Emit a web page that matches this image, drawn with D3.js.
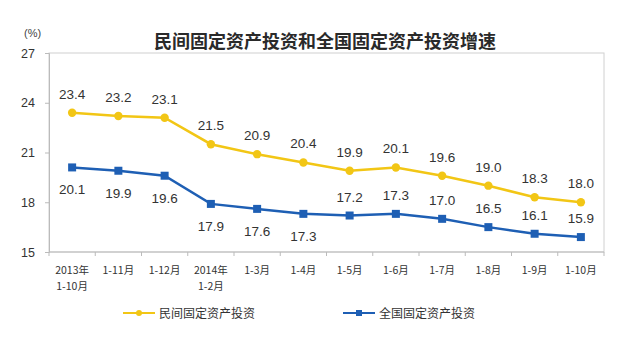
<!DOCTYPE html>
<html><head><meta charset="utf-8">
<script src="https://cdn.jsdelivr.net/npm/d3@7/dist/d3.min.js"></script>
<style>
html,body{margin:0;padding:0;background:#fff;}
svg{display:block;font-family:"Liberation Sans",Arial,"Noto Sans CJK SC",sans-serif;}
</style></head>
<body><svg id="c" width="640" height="357"></svg>
<script>
const categories = ["2013年\n1-10月","1-11月","1-12月","2014年\n1-2月","1-3月","1-4月","1-5月","1-6月","1-7月","1-8月","1-9月","1-10月"];
const privateInv = [23.4,23.2,23.1,21.5,20.9,20.4,19.9,20.1,19.6,19.0,18.3,18.0];
const nationalInv = [20.1,19.9,19.6,17.9,17.6,17.3,17.2,17.3,17.0,16.5,16.1,15.9];
const nationalLabelBelow = [true,true,true,true,true,true,false,false,false,false,false,false];
const yTicks = [15,18,21,24,27];
const seriesNames = ["民间固定资产投资","全国固定资产投资"];
const title = "民间固定资产投资和全国固定资产投资增速";

const svg = d3.select("#c");
const L=49,R=604,T=53,B=252;
const x = d3.scaleBand().domain(d3.range(categories.length)).range([L,R]);
const y = d3.scaleLinear().domain([15,27]).range([B,T]);
const cx = i => x(i)+x.bandwidth()/2;
const yellow="#F2C615", blue="#1E5FB4";
const cjk = '"Noto Sans CJK SC",sans-serif';

svg.append("text").attr("x",325).attr("y",48).attr("text-anchor","middle")
  .style("font-family",cjk).style("font-size","18px").style("font-weight","bold").attr("fill","#2a2a2a").text(title);
svg.append("text").attr("x",24).attr("y",37).style("font-size","11px").attr("fill","#444").text("(%)");

// frame
svg.append("rect").attr("x",L).attr("y",T).attr("width",R-L).attr("height",B-T)
  .attr("fill","none").attr("stroke","#d0d0d0").attr("stroke-width",1);

// y axis
const ya = svg.append("g").attr("transform",`translate(${L},0)`)
  .call(d3.axisLeft(y).tickValues(yTicks).tickSize(4).tickPadding(10).tickFormat(d3.format("d")));
ya.select(".domain").attr("stroke","#bbb");
ya.selectAll(".tick line").attr("stroke","#bbb");
ya.selectAll("text").style("font-size","12.5px").attr("fill","#333").style("font-family",'"Liberation Sans",Arial,sans-serif');

// x axis with boundary ticks
const xa = svg.append("g").attr("transform",`translate(0,${B})`);
xa.append("line").attr("x1",L).attr("x2",R).attr("stroke","#bbb");
xa.selectAll("line.t").data(d3.range(categories.length+1)).join("line").attr("class","t")
  .attr("x1",i=>L+i*x.bandwidth()).attr("x2",i=>L+i*x.bandwidth()).attr("y1",0).attr("y2",4).attr("stroke","#bbb");
const xl = xa.selectAll("text.xl").data(categories).join("text").attr("class","xl")
  .attr("text-anchor","middle").style("font-family",cjk).style("font-size","10.5px").attr("fill","#333");
xl.each(function(d,i){
  const parts=d.split("\n");
  d3.select(this).selectAll("tspan").data(parts).join("tspan")
    .attr("x",cx(i)).attr("y",(p,j)=>22+j*16).text(p=>p);
});

// lines
const line = vals => d3.line().x((d,i)=>cx(i)).y(d=>y(d))(vals);
svg.append("path").attr("d",line(privateInv)).attr("fill","none").attr("stroke",yellow).attr("stroke-width",2.5);
svg.append("path").attr("d",line(nationalInv)).attr("fill","none").attr("stroke",blue).attr("stroke-width",2.5);
svg.selectAll("circle.p").data(privateInv).join("circle").attr("class","p")
  .attr("cx",(d,i)=>cx(i)).attr("cy",d=>y(d)).attr("r",4.2).attr("fill",yellow);
svg.selectAll("rect.n").data(nationalInv).join("rect").attr("class","n")
  .attr("x",(d,i)=>cx(i)-4).attr("y",d=>y(d)-4).attr("width",8).attr("height",8).attr("fill",blue);

// labels
const lf = '"Liberation Sans",Arial,sans-serif';
svg.selectAll("text.pl").data(privateInv).join("text").attr("class","pl")
  .attr("x",(d,i)=>cx(i)).attr("y",d=>y(d)-14).attr("text-anchor","middle")
  .style("font-family",lf).style("font-size","13.5px").attr("fill","#333").text(d=>d.toFixed(1));
svg.selectAll("text.nl").data(nationalInv).join("text").attr("class","nl")
  .attr("x",(d,i)=>cx(i)).attr("y",(d,i)=>nationalLabelBelow[i]? y(d)+27 : y(d)-14).attr("text-anchor","middle")
  .style("font-family",lf).style("font-size","13.5px").attr("fill","#333").text(d=>d.toFixed(1));

// legend
const leg = [{x:123,c:yellow,shape:"c",name:seriesNames[0]},{x:343,c:blue,shape:"s",name:seriesNames[1]}];
const lg = svg.selectAll("g.leg").data(leg).join("g").attr("class","leg").attr("transform",d=>`translate(${d.x},313)`);
lg.append("line").attr("x1",0).attr("x2",32).attr("stroke",d=>d.c).attr("stroke-width",2);
lg.each(function(d){
  const g=d3.select(this);
  if(d.shape==="c") g.append("circle").attr("cx",16).attr("r",3).attr("fill",d.c);
  else g.append("rect").attr("x",13).attr("y",-3).attr("width",6).attr("height",6).attr("fill",d.c);
});
lg.append("text").attr("x",36).attr("y",4.5).style("font-family",cjk).style("font-size","12px").attr("fill","#333").text(d=>d.name);
</script></body></html>
